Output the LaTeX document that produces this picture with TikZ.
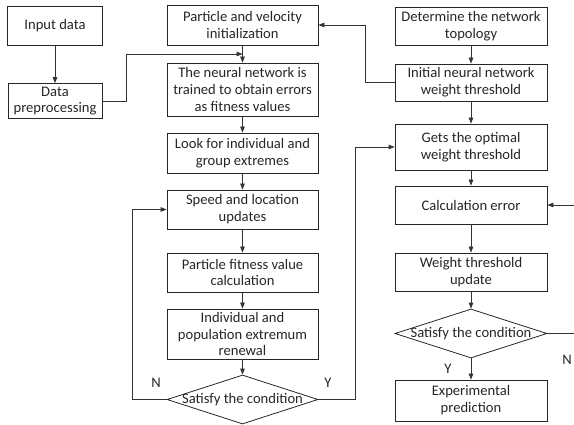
\documentclass[tikz,border=0pt]{standalone}
\usepackage{fontspec}
\setmainfont{Carlito}
\usetikzlibrary{shapes.geometric,arrows.meta}

\begin{document}
\begin{tikzpicture}[x=1pt,y=-1pt,
  every node/.style={font=\fontsize{14.6}{16.8}\selectfont, text=black!85},
  box/.style={draw=black!85, line width=0.8pt, align=center, inner sep=0pt},
  midbox/.style={box, minimum width=151pt},
  rightbox/.style={box, minimum width=152pt},
  decision/.style={draw=black!85, line width=0.8pt, shape=diamond, inner sep=0pt,
                   minimum width=151pt, minimum height=49pt},
  flow/.style={draw=black!80, line width=0.8pt, -{Triangle[length=6pt,width=4.5pt]}},
  plain/.style={draw=black!80, line width=0.8pt},
  tag/.style={inner sep=0pt}]

\useasboundingbox (0,0) rectangle (574,425);

% left column: data input
\node[box, minimum width=95pt, minimum height=39pt] (inp) at (55,26) {Input data};
\node[box, minimum width=94pt, minimum height=35pt] (prep) at (55,101) {Data\\preprocessing};

% middle column: particle swarm loop
\node[midbox, minimum height=40pt] (part)  at (242.5,25)  {Particle and velocity\\initialization};
\node[midbox, minimum height=53pt] (nn)    at (242.5,89.5){The neural network is\\trained to obtain errors\\as fitness values};
\node[midbox, minimum height=40pt] (look)  at (242.5,153) {Look for individual and\\group extremes};
\node[midbox, minimum height=39pt] (speed) at (242.5,209.5){Speed and location\\updates};
\node[midbox, minimum height=39pt] (fit)   at (242.5,272.5){Particle fitness value\\calculation};
\node[midbox, minimum height=50pt] (ind)   at (242.5,334) {Individual and\\population extremum\\renewal};
\node[decision, label=center:{Satisfy the condition}] (dia1) at (242.5,399.5) {};

% right column: network training
\node[rightbox, minimum height=38pt] (det)  at (471,26)   {Determine the network\\topology};
\node[rightbox, minimum height=37pt] (init) at (471,82.5) {Initial neural network\\weight threshold};
\node[rightbox, minimum height=46pt] (gets) at (471,147)  {Gets the optimal\\weight threshold};
\node[rightbox, minimum height=38pt] (calc) at (471,205)  {Calculation error};
\node[rightbox, minimum height=38pt] (wtu)  at (471,272)  {Weight threshold\\update};
\node[decision, minimum width=152pt, label=center:{Satisfy the condition}] (dia2) at (471,333.5) {};
\node[rightbox, minimum height=41pt] (exp)  at (471,400.5){Experimental\\prediction};

% junction points and free ends
\coordinate (j1) at (242.5,54);
\coordinate (loopin) at (574,205);
\coordinate (loopout) at (574,333.5);

% connectors
\draw[flow] (inp) -- (prep);
\draw[flow] (prep.east) -- (126,101) -- (126,54) -- (j1);
\draw[flow] (part) -- (nn);
\draw[flow] (nn) -- (look);
\draw[flow] (look) -- (speed);
\draw[flow] (speed) -- (fit);
\draw[flow] (fit) -- (ind);
\draw[flow] (ind) -- (dia1);
\draw[flow] (dia1.west) -- (132,399.5) -- (132,209.5) -- (speed.west);
\draw[flow] (dia1.east) -- (355,399.5) -- (355,147) -- (gets.west);

\draw[flow] (det) -- (init);
\draw[flow] (init.west) -- (365,82.5) -- (365,25) -- (part.east);
\draw[flow] (init) -- (gets);
\draw[flow] (gets) -- (calc);
\draw[flow] (calc) -- (wtu);
\draw[flow] (wtu) -- (dia2);
\draw[flow] (dia2) -- (exp);
\draw[plain] (dia2.east) -- (loopout);
\draw[flow] (loopin) -- (calc.east);

% branch labels
\node[tag] (n1) at (156,383) {N};
\node[tag] (y1) at (328,383) {Y};
\node[tag] (y2) at (448,369) {Y};
\node[tag] (n2) at (567,360) {N};
\end{tikzpicture}
\end{document}
